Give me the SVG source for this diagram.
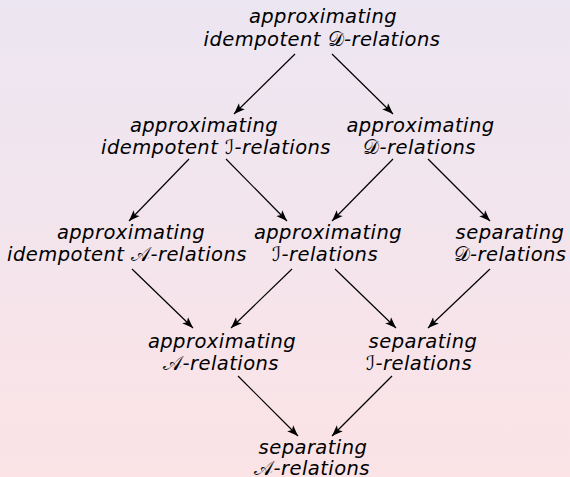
<svg xmlns="http://www.w3.org/2000/svg" width="570" height="477" viewBox="0 0 570 477">
  <defs>
    <linearGradient id="bg" x1="0" y1="0" x2="0" y2="1">
      <stop offset="0" stop-color="#ECE6F2"/>
      <stop offset="1" stop-color="#FBE3E6"/>
    </linearGradient>
    <marker id="arrow" viewBox="0 0 12 10" refX="11" refY="5" markerWidth="12" markerHeight="10" markerUnits="userSpaceOnUse" orient="auto">
      <path d="M0,0.8 L11,5 L0,9.2 L2.6,5 Z" fill="#000"/>
    </marker>
  </defs>
  <style>
    text { font-family: "DejaVu Sans", "Liberation Sans", sans-serif; font-style: oblique; font-size: 19.5px; letter-spacing: 0.45px; fill: #000; text-anchor: middle; }
    .cal { font-family: "DejaVu Sans", "DejaVu Serif", "Noto Sans", serif; font-style: normal; font-weight: normal; }
    #edges line { stroke: #000; stroke-width: 1.2; marker-end: url(#arrow); }
  </style>

  <rect width="570" height="477" fill="url(#bg)"/>

  <g id="edges">
    <line x1="295" y1="54" x2="234" y2="114"/>
    <line x1="332" y1="54" x2="393" y2="114"/>
    <line x1="189" y1="159" x2="129" y2="221"/>
    <line x1="226" y1="159" x2="287" y2="221"/>
    <line x1="393" y1="159" x2="332" y2="221"/>
    <line x1="428" y1="159" x2="490" y2="221"/>
    <line x1="132" y1="269" x2="193" y2="328"/>
    <line x1="292" y1="269" x2="231" y2="328"/>
    <line x1="335" y1="269" x2="396" y2="328"/>
    <line x1="490" y1="269" x2="428" y2="328"/>
    <line x1="238" y1="376" x2="298" y2="436"/>
    <line x1="392" y1="376" x2="332" y2="436"/>
  </g>

  <g id="approx-idem-D">
    <text x="323" y="23">approximating</text>
    <text x="322" y="45.5">idempotent <tspan class="cal">𝒟</tspan>-relations</text>
  </g>
  <g id="approx-idem-I">
    <text x="204" y="131.5">approximating</text>
    <text x="216" y="153.5">idempotent <tspan class="cal">ℐ</tspan>-relations</text>
  </g>
  <g id="approx-D">
    <text x="420.5" y="131.5">approximating</text>
    <text x="419.5" y="153.5"><tspan class="cal">𝒟</tspan>-relations</text>
  </g>
  <g id="approx-idem-A">
    <text x="131" y="238.5">approximating</text>
    <text x="127" y="260.5">idempotent <tspan class="cal">𝒜</tspan>-relations</text>
  </g>
  <g id="approx-I">
    <text x="328" y="238.5">approximating</text>
    <text x="325" y="260.5"><tspan class="cal">ℐ</tspan>-relations</text>
  </g>
  <g id="sep-D">
    <text x="510" y="238.5">separating</text>
    <text x="510" y="260.5"><tspan class="cal">𝒟</tspan>-relations</text>
  </g>
  <g id="approx-A">
    <text x="222" y="348">approximating</text>
    <text x="221" y="370"><tspan class="cal">𝒜</tspan>-relations</text>
  </g>
  <g id="sep-I">
    <text x="423" y="348">separating</text>
    <text x="419" y="370"><tspan class="cal">ℐ</tspan>-relations</text>
  </g>
  <g id="sep-A">
    <text x="313" y="454">separating</text>
    <text x="312" y="474.5"><tspan class="cal">𝒜</tspan>-relations</text>
  </g>
</svg>
